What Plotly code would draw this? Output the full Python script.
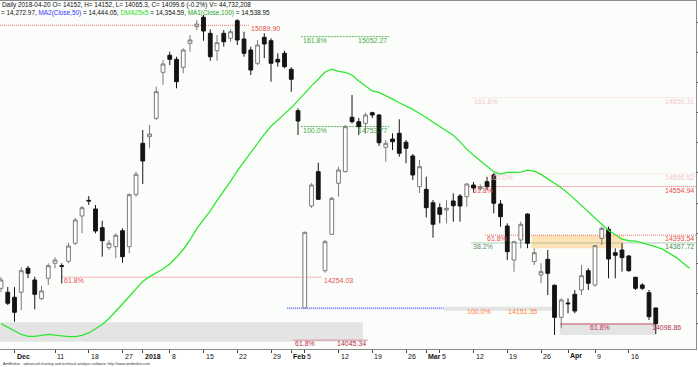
import plotly.graph_objects as go

# ---------------- data ----------------
dates = [
"2017-11-29","2017-11-30","2017-12-01","2017-12-04","2017-12-05","2017-12-06","2017-12-07","2017-12-08",
"2017-12-11","2017-12-12","2017-12-13","2017-12-14","2017-12-15","2017-12-18","2017-12-19","2017-12-20",
"2017-12-21","2017-12-22","2017-12-27","2017-12-28","2017-12-29","2018-01-02","2018-01-03","2018-01-04",
"2018-01-05","2018-01-08","2018-01-09","2018-01-10","2018-01-11","2018-01-12","2018-01-15","2018-01-16",
"2018-01-17","2018-01-18","2018-01-19","2018-01-22","2018-01-23","2018-01-24","2018-01-25","2018-01-26",
"2018-01-29","2018-01-30","2018-01-31","2018-02-01","2018-02-02","2018-02-05","2018-02-06","2018-02-07",
"2018-02-08","2018-02-09","2018-02-12","2018-02-13","2018-02-14","2018-02-15","2018-02-16","2018-02-19",
"2018-02-20","2018-02-21","2018-02-22","2018-02-23","2018-02-26","2018-02-27","2018-02-28","2018-03-01",
"2018-03-02","2018-03-05","2018-03-06","2018-03-07","2018-03-08","2018-03-09","2018-03-12","2018-03-13",
"2018-03-14","2018-03-15","2018-03-16","2018-03-19","2018-03-20","2018-03-21","2018-03-22","2018-03-23",
"2018-03-26","2018-03-27","2018-03-28","2018-03-29","2018-04-03","2018-04-04","2018-04-05","2018-04-06",
"2018-04-09","2018-04-10","2018-04-11","2018-04-12","2018-04-13","2018-04-16","2018-04-17","2018-04-18",
"2018-04-19","2018-04-20"]

opens = [14217.2,14204.0,14187.4,14204.0,14283.6,14244.8,14182.7,14250.4,14300.2,14292.2,
         14306.8,14366.5,14457.1,14509.0,14480.3,14418.3,14352.0,14355.3,14408.3,14355.3,
         14527.8,14698.3,14720.2,14781.3,14933.9,14990.3,14977.0,14950.5,15030.1,15085.2,
         15116.4,15063.3,15005.6,15063.3,15046.7,15105.1,15044.4,15007.9,14963.8,15050.0,
         15038.8,14977.0,14997.0,14943.9,14806.5,14152.0,14490.3,14604.1,14275.6,14396.4,
         14565.6,14604.1,14784.6,14770.0,14764.7,14799.9,14792.2,14685.1,14712.6,14731.5,
         14701.7,14656.2,14554.3,14545.7,14501.2,14484.7,14477.0,14506.9,14523.5,14521.2,
         14560.0,14548.0,14570.9,14593.2,14496.9,14423.9,14311.1,14377.5,14463.7,14305.5,
         14261.4,14313.4,14227.2,14121.0,14168.5,14197.3,14211.6,14275.6,14228.2,14383.1,
         14413.0,14335.3,14344.3,14324.4,14253.7,14228.2,14202.6,14152.0]
highs = [14255.0,14221.5,14221.0,14286.9,14291.2,14255.7,14224.9,14300.2,14320.1,14300.2,
         14368.5,14450.5,14490.3,14523.5,14493.6,14441.5,14377.5,14399.7,14416.3,14532.3,
         14604.1,14742.5,14759.1,14886.1,14974.7,15002.3,14985.7,15013.5,15057.7,15107.4,
         15124.0,15076.6,15057.7,15074.3,15076.6,15110.8,15068.6,15018.9,15041.1,15063.3,
         15046.7,14997.0,15005.6,14950.5,14814.5,14405.0,14566.0,14634.0,14377.5,14521.0,
         14620.7,14760.0,14858.6,14782.0,14800.0,14803.0,14795.5,14709.3,14731.5,14778.0,
         14709.3,14662.8,14643.0,14587.5,14510.2,14499.3,14510.2,14532.4,14530.0,14565.6,
         14570.0,14562.0,14587.0,14600.0,14510.0,14432.9,14375.0,14438.2,14466.0,14350.0,
         14300.2,14344.3,14230.0,14184.0,14184.0,14211.6,14294.5,14283.6,14361.0,14421.6,
         14421.6,14350.0,14366.5,14327.7,14255.7,14233.8,14211.6,14152.0]
lows = [14205.0,14161.8,14106.4,14145.2,14251.0,14147.5,14178.4,14228.2,14283.6,14233.0,
        14300.2,14360.9,14399.7,14493.6,14399.7,14322.1,14344.3,14316.8,14302.1,14333.4,
        14521.0,14563.3,14681.7,14775.6,14891.8,14958.1,14880.8,14930.6,15002.3,15074.3,
        15038.8,14972.4,14972.4,15018.9,15035.4,15024.5,14985.7,14924.9,14958.1,14981.0,
        14902.7,14952.5,14947.2,14869.5,14725.9,14151.4,14484.0,14510.0,14268.9,14396.0,
        14521.2,14602.0,14764.7,14725.9,14730.0,14782.0,14689.4,14637.3,14676.0,14653.9,
        14632.0,14576.6,14533.4,14452.8,14385.1,14432.9,14432.9,14438.2,14438.2,14488.0,
        14535.0,14540.0,14543.0,14466.0,14421.6,14311.1,14272.3,14350.0,14350.0,14294.5,
        14233.8,14195.0,14062.3,14084.5,14134.3,14134.3,14195.0,14211.6,14222.6,14360.9,
        14250.4,14250.4,14272.3,14272.3,14211.6,14211.6,14112.0,14065.3]
closes = [14244.8,14167.4,14137.6,14275.6,14267.0,14197.3,14208.3,14292.2,14311.1,14290.5,
          14357.6,14443.8,14484.7,14507.0,14407.3,14375.2,14366.5,14393.1,14322.1,14527.8,
          14595.5,14639.6,14729.2,14869.5,14961.4,14977.0,14902.7,15007.9,15041.1,15094.2,
          15071.0,14985.7,15032.1,15035.4,15068.6,15041.1,14997.0,14941.5,15024.5,15027.8,
          14963.8,14968.1,14952.5,14910.7,14772.3,14403.0,14560.0,14512.5,14371.8,14515.8,
          14609.7,14753.4,14770.0,14753.4,14792.2,14792.2,14700.3,14698.3,14703.6,14665.2,
          14681.7,14593.2,14620.7,14484.7,14429.6,14462.7,14482.7,14491.3,14490.3,14563.3,
          14550.0,14554.3,14554.3,14499.3,14454.8,14338.7,14371.8,14429.6,14366.5,14335.3,
          14272.3,14267.0,14121.0,14178.4,14166.0,14141.9,14259.0,14233.8,14358.6,14416.3,
          14314.4,14326.7,14318.8,14275.6,14217.2,14217.2,14123.0,14099.6]

# DMA25x5 (displaced forward 5 bars, so it runs 5 bars past the last candle)
dma_values = [14100,14088,14076,14064,14058,14058,14061,14064,14062,14059,
              14057,14057,14061,14069,14082,14097,14117,14140,14165,14190,
              14215,14240,14256,14268,14281,14298,14320,14346,14378,14415,
              14444,14474,14508,14539,14572,14607,14638,14668,14697,14728,
              14755,14777,14796,14816,14841,14865,14889,14911,14935,14944,
              14937,14934,14925,14905,14887,14872,14867,14857,14845,14833,
              14822,14811,14797,14784,14768,14754,14738,14725,14703,14679,
              14659,14640,14621,14604,14596,14602,14602,14603,14609,14606,
              14595,14580,14566,14551,14533,14512,14494,14471,14450,14430,
              14409,14395,14380,14375,14374,14368,14362,14355,14347,14333,
              14320,14302,14284]

tick_dates = ["2017-12-01","2017-12-11","2017-12-18","2017-12-27","2018-01-02","2018-01-08",
              "2018-01-15","2018-01-22","2018-01-29","2018-02-01","2018-02-05","2018-02-12",
              "2018-02-19","2018-02-26","2018-03-01","2018-03-05","2018-03-12","2018-03-19",
              "2018-03-26","2018-04-03","2018-04-09","2018-04-16"]
tick_labels = ["Dec","11","18","27","2018","8","15","22","29","Feb","5","12",
               "19","26","Mar","5","12","19","26","Apr","9","16"]

# drawn study levels (price values as labelled on the chart)
fib_prices = [15089.90, 14254.03, 15052.27, 14753.77, 14151.35, 14045.34,
              14850.31, 14596.52, 14554.94, 14393.54, 14367.72, 14098.86]
fib_pcts = ["", "61.8%", "161.8%", "100.0%", "100.0%", "61.8%",
            "161.8%", "100.0%", "61.8%", "61.8%", "38.2%", "61.8%"]

header1 = "Daily 2018-04-20 O= 14152, H= 14152, L= 14065.3, C= 14099.6 (-0.2%) V= 44,732,208"
header2 = ("= 14,272.97, <span style='color:#2f2fff'>MA2(Close,50)</span> = 14,444.05, "
           "<span style='color:#22dd22'>DMA25x5</span> = 14,354.59, "
           "<span style='color:#25a025'>MA1(Close,100)</span> = 14,538.95")
footer = "AmiBroker - advanced charting and technical analysis software. http://www.amibroker.com"

# ---------------- figure ----------------
n = len(dates)
xi = list(range(n))
FONT = "Liberation Sans, Arial, sans-serif"

fig = go.Figure()
fig.add_trace(go.Candlestick(
    x=xi, open=opens, high=highs, low=lows, close=closes,
    increasing=dict(line=dict(color="#7a7a7a", width=1), fillcolor="#ffffff"),
    decreasing=dict(line=dict(color="#141414", width=1), fillcolor="#141414"),
    whiskerwidth=0, hoverinfo="skip", showlegend=False))
fig.add_trace(go.Scatter(
    x=list(range(len(dma_values))), y=dma_values, mode="lines",
    line=dict(color="#2ee62e", width=1.3), hoverinfo="skip", showlegend=False))

X_LEFT, X_RIGHT = -0.15, 102.96
shapes = []
annots = []
FINE = "1px,1px"

def hline(p, x0, x1, color, dash=FINE, width=1):
    shapes.append(dict(type="line", xref="x", yref="y", x0=x0, x1=x1, y0=p, y1=p,
                       line=dict(color=color, width=width, dash=dash), layer="below"))

def band(p0, p1, x0, x1, color):
    shapes.append(dict(type="rect", xref="x", yref="y", x0=x0, x1=x1, y0=p0, y1=p1,
                       line=dict(width=0), fillcolor=color, layer="below"))

def lab(x, p, text, color, anchor="left"):
    annots.append(dict(x=x, y=p, xref="x", yref="y", text=text, showarrow=False,
                       xanchor=anchor, yanchor="top", yshift=2, xshift=0,
                       font=dict(family=FONT, size=7, color=color)))

RED, REDT = "#f06a6a", "#e85050"
GRN = "#5cb85c"
# top-left high line
hline(fib_prices[0], X_LEFT, 36.7, RED)
lab(36.8, fib_prices[0], "15089.90", REDT)
# 61.8% left
hline(fib_prices[1], 9.0, 47.4, RED)
lab(9.0, fib_prices[1], fib_pcts[1], REDT)
lab(47.5, fib_prices[1], "14254.03", REDT)
# green projection
for k in (2, 3):
    hline(fib_prices[k], 44.4, 57.5, GRN, dash="2px,1px")
    lab(44.4, fib_prices[k], fib_pcts[k], "#4aa64a")
    lab(57.5, fib_prices[k], f"{fib_prices[k]:.2f}", "#4aa64a", "right")
# blue line + grey strip + orange labels
hline(fib_prices[4], 42.4, 65.6, "#7474ff", dash="1px,1px", width=2)
band(14143.0, 14156.0, 65.6, 81.6, "#e4e4e4")
lab(68.7, fib_prices[4], fib_pcts[4], "#ff8040")
lab(79.7, fib_prices[4], "14151.35", "#ff8040", "right")
# bottom-left grey band
band(14040.0, 14104.4, X_LEFT, 53.6, "#e4e4e4")
hline(fib_prices[5], 43.3, 54.4, "#d890a0", dash="solid")
lab(43.3, fib_prices[5], fib_pcts[5], "#b8304c")
lab(54.4, fib_prices[5], "14045.34", "#b8304c", "right")
# faint upper-right levels
for k in (6, 7):
    hline(fib_prices[k], 69.8 if k == 6 else 72.0, X_RIGHT, "#f6d4d4")
    lab(69.8 if k == 6 else 72.0, fib_prices[k], fib_pcts[k], "#f3c8c8")
    lab(X_RIGHT, fib_prices[k], f"{fib_prices[k]:.2f}", "#f3c8c8", "right")
# red 61.8% 14554.94
hline(fib_prices[8], 68.7, X_RIGHT, RED)
lab(69.7, fib_prices[8], fib_pcts[8], REDT)
lab(X_RIGHT, fib_prices[8], "14554.94", REDT, "right")
# orange band, 61.8% and 38.2%
band(14350.0, fib_prices[9], 78.6, 92.2, "#fde3b6")
hline(fib_prices[9], 71.7, X_RIGHT, RED)
lab(71.7, fib_prices[9], fib_pcts[9], REDT)
lab(X_RIGHT, fib_prices[9], "14393.54", REDT, "right")
hline(fib_prices[10], 69.7, X_RIGHT, "#6c9a7a")
lab(69.7, fib_prices[10], fib_pcts[10], "#5a8a68")
lab(X_RIGHT, fib_prices[10], "14367.72", "#4f8a60", "right")
# bottom-right level
band(14062.3, fib_prices[11], 82.8, 97.0, "#e4e4e4")
hline(fib_prices[11], 82.8, 97.0, "#c04a62", dash="solid")
lab(86.9, fib_prices[11], fib_pcts[11], "#b8304c")
lab(96.1, fib_prices[11], "14098.86", "#b8304c")

# plot-area geometry helpers (pixels -> paper)
PLOT_TOP, PLOT_BOT = 1, 349
def py(pix):
    return (PLOT_BOT - pix) / (PLOT_BOT - PLOT_TOP)

annots.append(dict(x=0.0, y=py(4.6), xref="paper", yref="paper", text=header1, showarrow=False,
                   xanchor="left", yanchor="middle", xshift=0,
                   font=dict(family=FONT, size=6.4, color="#111")))
annots.append(dict(x=0.0, y=py(13.0), xref="paper", yref="paper", text=header2, showarrow=False,
                   xanchor="left", yanchor="middle", xshift=-1,
                   font=dict(family=FONT, size=6.4, color="#111")))
annots.append(dict(x=0.0, y=py(363.5), xref="paper", yref="paper", text=footer, showarrow=False,
                   xanchor="left", yanchor="middle", xshift=1,
                   font=dict(family=FONT, size=3.7, color="#333")))

tick_idx = [dates.index(d) for d in tick_dates]
for ti, tl in zip(tick_idx, tick_labels):
    bold = (not tl.isdigit()) or len(tl) == 4
    annots.append(dict(x=ti, y=py(356.0), xref="x", yref="paper",
                       text=f"<b>{tl}</b>" if bold else tl, showarrow=False,
                       xanchor="left", yanchor="middle", xshift=0,
                       font=dict(family=FONT, size=7, color="#111")))

fig.update_layout(
    width=698, height=367,
    margin=dict(l=0, r=2, t=PLOT_TOP, b=367 - PLOT_BOT, pad=0),
    paper_bgcolor="#ffffff", plot_bgcolor="#fbfdfb",
    boxgap=0.2,
    shapes=shapes, annotations=annots, showlegend=False,
    xaxis=dict(range=[X_LEFT, X_RIGHT], showgrid=False, zeroline=False,
               showline=True, linecolor="#8c8c8c", linewidth=1, mirror=True,
               ticks="outside", ticklen=3, tickcolor="#444", tickvals=tick_idx,
               showticklabels=False, rangeslider=dict(visible=False), fixedrange=True),
    yaxis=dict(range=[14015.8, 15170.5], side="right", showgrid=False, zeroline=False,
               showline=True, linecolor="#8c8c8c", linewidth=1,
               ticks="outside", ticklen=2, tickcolor="#444", dtick=100, tick0=0,
               showticklabels=False, fixedrange=True),
)

fig.write_html("out.html")
